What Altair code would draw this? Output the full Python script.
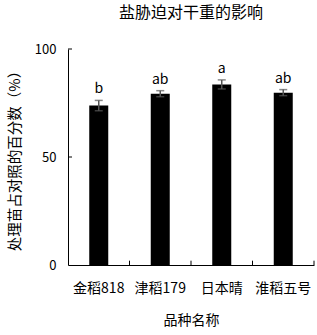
import altair as alt
import pandas as pd

cats = ["金稻818", "津稻179", "日本晴", "淮稻五号"]
vals = [73.8, 79.3, 83.6, 79.8]
errs = [2.4, 1.4, 2.1, 1.4]
letters = ["b", "ab", "a", "ab"]

df = pd.DataFrame({"cat": cats, "val": vals, "err": errs, "sig": letters})
df["lo"] = df["val"] - df["err"]
df["hi"] = df["val"] + df["err"]

FONT = "Noto Sans CJK SC"

xscale = alt.Scale(domain=cats, paddingInner=0, paddingOuter=0)
yscale = alt.Scale(domain=[0, 100], nice=False)

base = alt.Chart(df)

bars = base.mark_bar(size=19, color="black").encode(
    x=alt.X("cat:N", scale=xscale, sort=cats,
            axis=alt.Axis(title="品种名称", labelAngle=0, tickSize=0, domainColor="black",
                          labelFontSize=14, labelColor="black", labelPadding=16,
                          titleFontSize=14, titleFontWeight="normal", titlePadding=18,
                          titleColor="black", labelFont=FONT, titleFont=FONT)),
    y=alt.Y("val:Q", scale=yscale,
            axis=alt.Axis(title="处理苗占对照的百分数（%）", values=[0, 50, 100], tickSize=0,
                          grid=False, domainColor="black", labelFontSize=13, labelColor="black",
                          labelPadding=12, titleFontSize=14.5, titleFontWeight="normal",
                          titleColor="black", titlePadding=12, labelFont=FONT, titleFont=FONT)),
)

rule = base.mark_rule(color="#555555", strokeWidth=1.5).encode(
    x=alt.X("cat:N", scale=xscale, sort=cats), y="lo:Q", y2="hi:Q")
cap_hi = base.mark_tick(color="#555555", size=8, thickness=1.5, orient="horizontal").encode(
    x=alt.X("cat:N", scale=xscale, sort=cats), y=alt.Y("hi:Q", scale=yscale))
cap_lo = base.mark_tick(color="#555555", size=8, thickness=1.5, orient="horizontal").encode(
    x=alt.X("cat:N", scale=xscale, sort=cats), y=alt.Y("lo:Q", scale=yscale))
text = base.mark_text(baseline="bottom", dy=-4, fontSize=14, font=FONT, color="black").encode(
    x=alt.X("cat:N", scale=xscale, sort=cats), y=alt.Y("hi:Q", scale=yscale), text="sig:N")

xticks = base.mark_rule(color="black").encode(
    x=alt.X("cat:N", scale=xscale, sort=cats, bandPosition=1),
    y=alt.datum(0), y2=alt.datum(2))

ytick_df = pd.DataFrame({"t": [50, 100]})
yticks = alt.Chart(ytick_df).mark_rule(color="black").encode(
    y=alt.Y("t:Q", scale=yscale), x=alt.value(0), x2=alt.value(4))

chart = alt.layer(bars, rule, cap_hi, cap_lo, text, xticks, yticks).properties(
    width=246, height=216,
    title=alt.TitleParams("盐胁迫对干重的影响", fontSize=16, font=FONT, fontWeight="normal",
                          color="black", offset=22, anchor="middle"),
    autosize=alt.AutoSizeParams(type="none"),
    padding={"left": 68, "top": 49, "right": 3, "bottom": 70},
).configure_view(stroke=None).configure_axis(domainWidth=1)

chart.save("out.html", embed_options={"renderer": "svg", "actions": False})
